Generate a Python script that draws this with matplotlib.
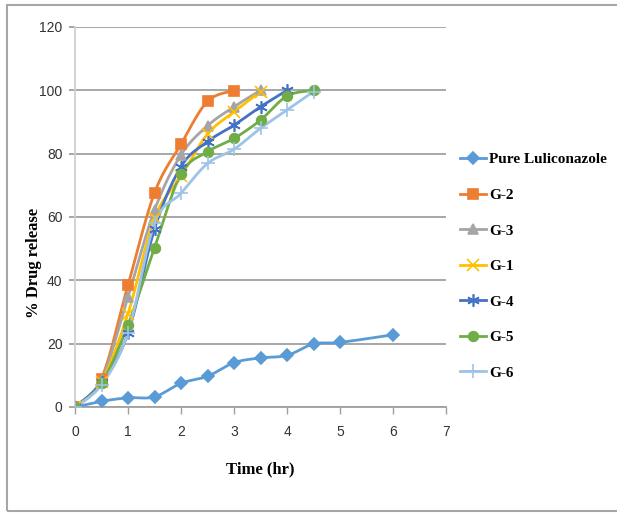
import numpy as np
import matplotlib
matplotlib.use("Agg")
import matplotlib.pyplot as plt
from matplotlib.patches import Rectangle

# release data (% drug released vs time in hours)
t_pure = [0, 0.5, 1, 1.5, 2, 2.5, 3, 3.5, 4, 4.5, 5, 6]
pure = [0, 1.8, 2.9, 3.2, 7.5, 9.7, 14.0, 15.5, 16.3, 19.9, 20.4, 22.8]

t_g2 = [0, 0.5, 1, 1.5, 2, 2.5, 3]
g2 = [0, 9.0, 38.5, 67.6, 83.0, 96.5, 99.9]

t_g3 = [0, 0.5, 1, 1.5, 2, 2.5, 3, 3.5]
g3 = [0, 8.5, 34.8, 62.2, 79.6, 88.8, 94.8, 100]

t_g1 = [0, 0.5, 1, 1.5, 2, 2.5, 3, 3.5]
g1 = [0, 8.0, 29.5, 59.6, 72.8, 86.2, 93.2, 99.6]

t_g4 = [0, 0.5, 1, 1.5, 2, 2.5, 3, 3.5, 4]
g4 = [0, 7.8, 23.3, 56.2, 75.9, 83.8, 89.0, 94.8, 100]

t_g5 = [0, 0.5, 1, 1.5, 2, 2.5, 3, 3.5, 4, 4.5]
g5 = [0, 7.5, 25.9, 50.3, 73.6, 80.6, 84.8, 90.6, 98.2, 100]

t_g6 = [0, 0.5, 1, 1.5, 2, 2.5, 3, 3.5, 4, 4.5]
g6 = [0, 7.0, 23.5, 58.0, 67.5, 76.9, 81.4, 88.0, 93.8, 99.6]

series = [
    ("Pure Luliconazole", t_pure, pure, "#5B9BD5", "D", 6.5),
    ("G-2", t_g2, g2, "#ED7D31", "s", 6.5),
    ("G-3", t_g3, g3, "#A5A5A5", "^", 7),
    ("G-1", t_g1, g1, "#FFC000", "x", 8),
    ("G-4", t_g4, g4, "#4472C4", (6, 2, 0), 9),
    ("G-5", t_g5, g5, "#70AD47", "o", 7),
    ("G-6", t_g6, g6, "#9DC3E6", "+", 10),
]


def smooth(x, y, n=20):
    # Catmull-Rom style bezier smoothing, like spreadsheet "smoothed line"
    x = np.asarray(x, float)
    y = np.asarray(y, float)
    px = np.concatenate([[x[0]], x, [x[-1]]])
    py = np.concatenate([[y[0]], y, [y[-1]]])
    xs, ys = [], []
    s = np.linspace(0, 1, n)
    for i in range(1, len(px) - 2):
        p0 = np.array([px[i], py[i]])
        p3 = np.array([px[i + 1], py[i + 1]])
        c1 = p0 + (np.array([px[i + 1], py[i + 1]]) - np.array([px[i - 1], py[i - 1]])) / 6
        c2 = p3 - (np.array([px[i + 2], py[i + 2]]) - np.array([px[i], py[i]])) / 6
        b = ((1 - s) ** 3)[:, None] * p0 + (3 * (1 - s) ** 2 * s)[:, None] * c1 \
            + (3 * (1 - s) * s ** 2)[:, None] * c2 + (s ** 3)[:, None] * p3
        xs.extend(b[:, 0])
        ys.extend(b[:, 1])
    return xs, ys


fig = plt.figure(figsize=(6.17, 5.14), dpi=100)
ax = fig.add_axes([75 / 617, 1 - 407 / 514, 371 / 617, 380 / 514])

fig.patches.append(Rectangle((6.5 / 617, 3 / 514), 1.0, 1 - 7.5 / 514,
                             transform=fig.transFigure, fill=False,
                             edgecolor="#a6a6a6", linewidth=1.5))

handles = []
for name, tx, vy, col, mk, ms in series:
    sx, sy = smooth(tx, vy)
    ax.plot(sx, sy, color=col, linewidth=2, zorder=3)
    ax.plot(tx, vy, linestyle="none", marker=mk, markersize=ms, color=col,
            markeredgecolor=col, markeredgewidth=1.2, zorder=4)
    h, = ax.plot([], [], color=col, linewidth=2, marker=mk, markersize=ms,
                 markeredgecolor=col, markeredgewidth=1.2, label=name)
    handles.append(h)

ax.set_xlim(0, 7)
ax.set_ylim(0, 120)
ax.set_xticks(range(0, 8))
ax.set_yticks(range(0, 121, 20))
ax.yaxis.grid(True, color="#a0a0a0", linewidth=1.3)
ax.set_axisbelow(True)

for side in ["top", "right"]:
    ax.spines[side].set_visible(False)
ax.spines["left"].set_color("#d0d0d0")
ax.spines["left"].set_linewidth(1.3)
ax.spines["bottom"].set_color("#a0a0a0")
ax.spines["bottom"].set_linewidth(1.3)

ax.tick_params(axis="x", direction="out", length=5, width=1, color="#a0a0a0",
               pad=8, labelsize=10, labelcolor="#333333")
ax.tick_params(axis="y", direction="out", length=4, width=1.3, color="#a0a0a0",
               pad=5, labelsize=10, labelcolor="#333333")
for lab in ax.get_xticklabels() + ax.get_yticklabels():
    lab.set_family("Liberation Sans")

ax.set_xlabel("Time (hr)", family="Liberation Serif", fontweight="bold",
              fontsize=12, labelpad=16)
ax.set_ylabel("% Drug release", family="Liberation Serif", fontweight="bold",
              fontsize=12)
ax.yaxis.set_label_coords(-0.09, 0.38)

leg = fig.legend(handles=handles, loc="upper left",
                 bbox_to_anchor=(446 / 617, 1 - 139 / 514),
                 frameon=False, handlelength=1.7, handletextpad=0.2,
                 labelspacing=1.43,
                 prop={"family": "Liberation Serif", "weight": "bold", "size": 11})

fig.savefig("out.png", dpi=100)
